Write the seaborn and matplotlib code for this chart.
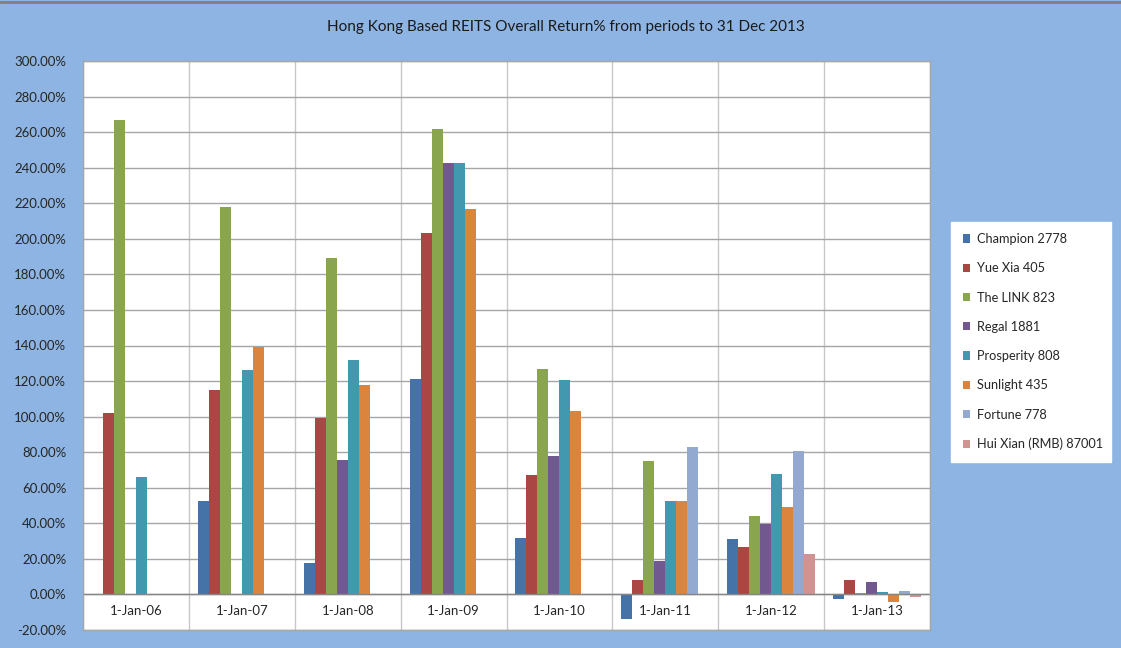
import numpy as np
import pandas as pd
import matplotlib
matplotlib.use("Agg")
import matplotlib.pyplot as plt
from matplotlib.lines import Line2D
import seaborn as sns

# --- Data (overall return %) ---
nan = np.nan
DATES = ['1-Jan-06', '1-Jan-07', '1-Jan-08', '1-Jan-09',
         '1-Jan-10', '1-Jan-11', '1-Jan-12', '1-Jan-13']
REITS = ['Champion 2778', 'Yue Xia 405', 'The LINK 823', 'Regal 1881',
         'Prosperity 808', 'Sunlight 435', 'Fortune 778', 'Hui Xian (RMB) 87001']

CHAMPION = [nan, 52.6, 17.5, 121.0, 31.7, -14.0, 31.0, -2.4]
YUE_XIA = [102.0, 115.0, 99.5, 203.0, 67.0, 8.1, 26.6, 7.9]
THE_LINK = [267.0, 218.0, 189.0, 262.0, 127.0, 75.0, 44.0, 0.8]
REGAL = [nan, nan, 75.8, 242.6, 78.0, 19.0, 39.6, 6.8]
PROSPERITY = [66.0, 126.0, 132.0, 242.6, 120.8, 52.8, 67.7, 1.3]
SUNLIGHT = [nan, 139.0, 118.0, 217.0, 103.4, 52.5, 49.3, -4.1]
FORTUNE = [nan, nan, nan, nan, nan, 82.8, 80.7, 1.9]
HUI_XIAN = [nan, nan, nan, nan, nan, nan, 22.9, -1.5]

Y_TICKS = list(range(-20, 301, 20))

# Excel 2007 default series colours
COLORS = ['#4572A7', '#AA4643', '#89A54E', '#71588F',
          '#4198AF', '#DB843D', '#93A9CF', '#D19392']
BG_BLUE = '#8DB4E2'
GRID_GREY = '#A6A6A6'


def build_frame():
    """Wide table -> long table for seaborn."""
    wide = pd.DataFrame({
        'date': DATES,
        REITS[0]: CHAMPION,
        REITS[1]: YUE_XIA,
        REITS[2]: THE_LINK,
        REITS[3]: REGAL,
        REITS[4]: PROSPERITY,
        REITS[5]: SUNLIGHT,
        REITS[6]: FORTUNE,
        REITS[7]: HUI_XIAN,
    })
    return wide.melt(id_vars='date', var_name='reit', value_name='ret')


def draw(df):
    sns.set_style("white")
    plt.rcParams['font.family'] = ['Lato', 'DejaVu Sans']

    fig = plt.figure(figsize=(11.21, 6.48), dpi=100, facecolor=BG_BLUE)
    ax = fig.add_axes([83 / 1121, 1 - 630 / 648, (930 - 83) / 1121, (630 - 61) / 648])
    ax.set_facecolor('white')

    sns.barplot(data=df, x='date', y='ret', hue='reit', order=DATES,
                hue_order=REITS, palette=COLORS, width=0.83, saturation=1,
                linewidth=0, errorbar=None, ax=ax)

    # axes / grid
    ax.set_ylim(-20, 300)
    ax.set_xlim(-0.5, len(DATES) - 0.5)
    ax.set_yticks(Y_TICKS)
    ax.set_yticklabels([f'{v:.2f}%' for v in Y_TICKS], fontsize=9.5, color='#262626')
    ax.tick_params(axis='y', length=0, pad=12)
    ax.yaxis.grid(True, color=GRID_GREY, lw=1)
    ax.set_xticks(np.arange(-0.5, len(DATES), 1.0), minor=True)
    ax.xaxis.grid(True, which='minor', color='#C8C8C8', lw=1)
    ax.set_xticks([])
    ax.set_axisbelow(True)
    ax.axhline(0, color='#868686', lw=1, zorder=1)
    for s in ax.spines.values():
        s.set_color(GRID_GREY)
        s.set_linewidth(1)
    ax.set_xlabel('')
    ax.set_ylabel('')

    # category labels sit next to the 0% axis, like Excel
    for i, d in enumerate(DATES):
        ax.text(i, -9.5, d, ha='center', va='center', fontsize=9.5, color='#262626')

    # legend box on the right
    handles, labels = ax.get_legend_handles_labels()
    ax.get_legend().remove()
    leg = fig.legend(handles, labels, loc='upper left',
                     bbox_to_anchor=(951 / 1121, 1 - 228 / 648, 160 / 1121, 0.01),
                     mode='expand', frameon=True, fancybox=False, framealpha=1,
                     fontsize=9.2, handlelength=0.6, handleheight=0.6,
                     handletextpad=0.5, labelspacing=1.35, borderpad=0.9,
                     borderaxespad=0)
    leg.get_frame().set_facecolor('white')
    leg.get_frame().set_edgecolor('white')
    for t in leg.get_texts():
        t.set_color('#262626')

    fig.text(0.505, 1 - 27 / 648,
             'Hong Kong Based REITS Overall Return% from periods to 31 Dec 2013',
             ha='center', va='center', fontsize=11, color='#1A1A1A')

    # thin grey frame line along the top edge
    fig.add_artist(Line2D([0, 1], [0.997, 0.997], transform=fig.transFigure,
                          color='#808080', lw=2))

    fig.savefig('out.png', dpi=100, facecolor=BG_BLUE)


if __name__ == "__main__":
    data = build_frame()
    print(data.head())
    draw(data)
